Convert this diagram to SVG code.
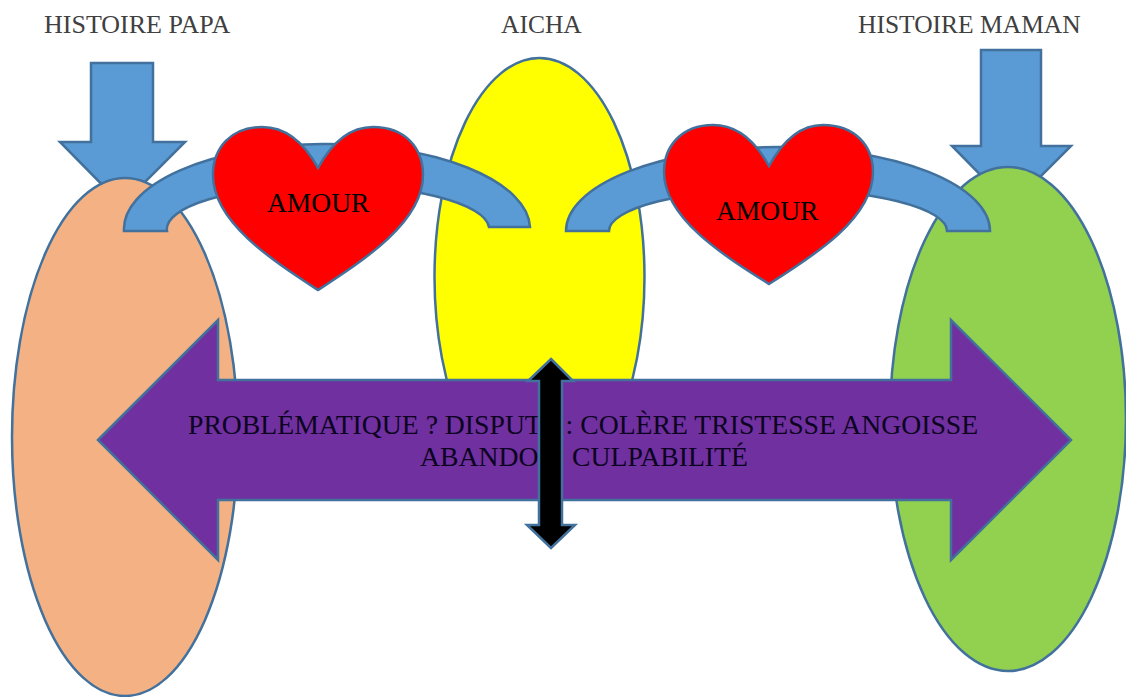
<svg xmlns="http://www.w3.org/2000/svg" width="1126" height="697" viewBox="0 0 1126 697">
<style>
.s{stroke:#41719C;stroke-width:2.500;stroke-linejoin:miter}
.b{fill:#5B9BD5}
.h{fill:#FF0000}
text{font-family:"Liberation Serif","Times New Roman",serif}
.t{fill:#404040;font-size:25.500px}
.a{fill:#000;font-size:27.500px}
.k{fill:#0B0320;font-size:27.700px}
</style>
<rect width="1126" height="697" fill="#fff"/>
<g id="label-papa"><text class="t" x="44" y="33" style="font-size:26px">HISTOIRE PAPA</text></g>
<g id="label-aicha"><text class="t" x="501" y="33">AICHA</text></g>
<g id="label-maman"><text class="t" x="858" y="33">HISTOIRE MAMAN</text></g>
<g id="connectors-down">
<path id="arrow-papa" class="s b" d="M91 63H153V142H185L122 205L60 142H91Z"/>
<path id="arrow-maman" class="s b" d="M981 50H1041V146H1071L1011 206L952 146H981Z"/>
</g>
<g id="node-papa"><ellipse class="s" cx="125" cy="437" rx="113" ry="259" fill="#F4B183"/></g>
<g id="node-aicha"><ellipse class="s" cx="539.500" cy="277" rx="105" ry="219" fill="#FFFF00"/></g>
<g id="node-maman"><ellipse class="s" cx="1008" cy="419" rx="118" ry="252" fill="#92D050"/></g>
<g id="connectors-arches">
<path class="s b" d="M124 231A203 85 0 0 1 530 227H489A161 44 0 0 0 167 231Z"/>
<path class="s b" d="M566 231A212 84 0 0 1 990 231H947A169 42 0 0 0 609 231Z"/>
</g>
<g id="heart-left">
<path class="s h" d="M318 168C306 146 289 127 262 127C231 127 213 148 213 175C213 222 272 260 318 290C364 260 423 222 423 175C423 148 405 127 373 127C347 127 330 146 318 168Z"/>
<text class="a" x="267" y="212">AMOUR</text>
</g>
<g id="heart-right">
<path class="s h" d="M769 166C757 144 740 125 713 125C682 125 664 146 664 172C664 218 723 255 769 284C815 255 873 218 873 172C873 146 855 125 823 125C798 125 781 144 769 166Z"/>
<text class="a" x="716" y="220">AMOUR</text>
</g>
<g id="problematique">
<path class="s" fill="#7030A0" d="M98 440L218 320V380H951V320L1071 440L951 560V500H218V560Z"/>
<text class="k" x="188" y="434">PROBLÉMATIQUE ? DISPUTE : COLÈRE TRISTESSE ANGOISSE</text>
<text class="k" y="466"><tspan x="420">ABANDON</tspan><tspan x="572">CULPABILITÉ</tspan></text>
</g>
<g id="connector-vertical">
<path class="s" fill="#000" d="M551 359L573 381H562V525H575L551 548L527 525H539V381H528Z"/>
</g>
</svg>
